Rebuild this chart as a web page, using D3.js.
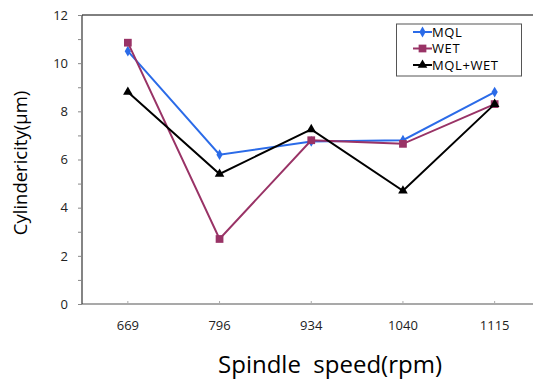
<!DOCTYPE html>
<html><head><meta charset="utf-8">
<script src="https://cdn.jsdelivr.net/npm/d3@7"></script>
<style>body{margin:0;background:#fff}svg{display:block}</style>
</head><body>
<svg id="c" width="533" height="381"></svg>
<script>
const categories = ["669","796","934","1040","1115"];
const mql = [10.5, 6.2, 6.75, 6.8, 8.8];
const wet = [10.85, 2.7, 6.8, 6.65, 8.3];
const mqlWet = [8.8, 5.4, 7.25, 4.7, 8.3];
const yTicks = [0,2,4,6,8,10,12];
const seriesNames = ["MQL","WET","MQL+WET"];

const svg = d3.select("#c");
const L = 82, T = 15, B = 304, R = 540.5;
const x = d3.scaleBand().domain(categories).range([L, R]);
const y = d3.scaleLinear().domain([0, 12]).range([B, T]);
const font = "'Open Sans', 'DejaVu Sans', sans-serif";

// frame
svg.append("line").attr("x1", L).attr("x2", 533).attr("y1", T).attr("y2", T).attr("stroke", "#000").attr("stroke-width", 1);
svg.append("line").attr("x1", L).attr("x2", 533).attr("y1", B).attr("y2", B).attr("stroke", "#555").attr("stroke-width", 1.2);
svg.append("line").attr("x1", L).attr("x2", L).attr("y1", T).attr("y2", B).attr("stroke", "#333").attr("stroke-width", 1.2);

// y axis
const yAxis = d3.axisLeft(y).tickValues(d3.range(0, 13, 1)).tickSize(4)
  .tickFormat(d => yTicks.includes(d) ? d : "");
const gy = svg.append("g").attr("transform", `translate(${L},0)`).call(yAxis);
gy.select(".domain").remove();
gy.selectAll(".tick line").attr("stroke", "#888");
gy.selectAll("text").attr("font-family", font).attr("font-size", 13).attr("fill", "#222").attr("x", -14);

// x axis
const xAxis = d3.axisBottom(x).tickSize(-3).tickSizeOuter(0);
const gx = svg.append("g").attr("transform", `translate(0,${B})`).call(xAxis);
gx.select(".domain").remove();
gx.selectAll(".tick line").attr("stroke", "#aaa");
gx.selectAll("text").attr("font-family", font).attr("font-size", 13).attr("fill", "#222").attr("y", 17);

const cx = c => x(c) + x.bandwidth() / 2;
const colors = ["#2b6be8", "#993366", "#000000"];
const data = [mql, wet, mqlWet];
const symbols = [d3.symbolDiamond, d3.symbolSquare, d3.symbolTriangle];
const symSizes = [34, 60, 40];
const line = d3.line().x((d, i) => cx(categories[i])).y(d => y(d));

data.forEach((vals, s) => {
  svg.append("path").datum(vals).attr("d", line).attr("fill", "none")
    .attr("stroke", colors[s]).attr("stroke-width", 2);
  svg.selectAll(null).data(vals).enter().append("path")
    .attr("transform", (d, i) => `translate(${cx(categories[i])},${y(d)})`)
    .attr("d", d3.symbol().type(symbols[s]).size(symSizes[s]))
    .attr("fill", colors[s]);
});

// legend
const lg = svg.append("g");
lg.append("rect").attr("x", 396.5).attr("y", 24).attr("width", 125).attr("height", 52)
  .attr("fill", "#fff").attr("stroke", "#555").attr("stroke-width", 1);
seriesNames.forEach((n, s) => {
  const yy = 32 + s * 16.5;
  lg.append("line").attr("x1", 413).attr("x2", 432).attr("y1", yy).attr("y2", yy)
    .attr("stroke", colors[s]).attr("stroke-width", 2);
  lg.append("path").attr("transform", `translate(422.5,${yy})`)
    .attr("d", d3.symbol().type(symbols[s]).size(symSizes[s])).attr("fill", colors[s]);
  lg.append("text").attr("x", 432).attr("y", yy).attr("dy", "0.36em")
    .attr("font-family", font).attr("font-size", 13).attr("letter-spacing", 0.6)
    .attr("fill", "#000").text(n);
});

// axis titles
svg.append("text").attr("transform", "translate(27,163) rotate(-90)")
  .attr("text-anchor", "middle").attr("font-family", font).attr("font-size", 18.5)
  .attr("fill", "#000").text("Cylindericity(\u03bcm)");
svg.append("text").attr("x", 330).attr("y", 373).attr("text-anchor", "middle")
  .attr("font-family", font).attr("font-size", 24).attr("fill", "#000")
  .style("white-space", "pre").text("Spindle  speed(rpm)");
</script>
</body></html>
